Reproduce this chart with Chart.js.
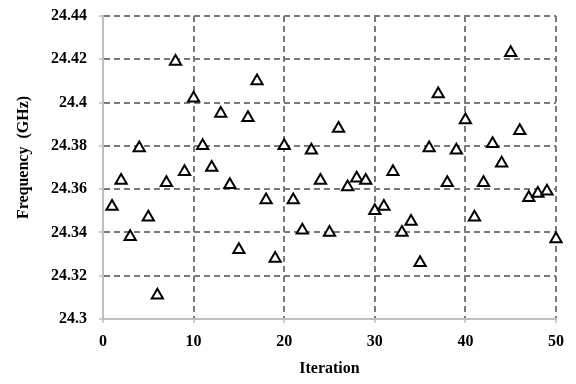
<!DOCTYPE html>
<html>
<head>
<meta charset="utf-8">
<script src="https://cdn.jsdelivr.net/npm/chart.js@4"></script>
<style>
  html, body { margin: 0; padding: 0; background: #fff; }
  #wrap { width: 576px; height: 384px; }
</style>
</head>
<body>
<div id="wrap"><canvas id="freqChart" width="576" height="384"></canvas></div>
<script>
// iteration numbers and measured frequency (GHz)
const iterations = [
    1, 2, 3, 4, 5, 6, 7, 8, 9, 10,
    11, 12, 13, 14, 15, 16, 17, 18, 19, 20,
    21, 22, 23, 24, 25, 26, 27, 28, 29, 30,
    31, 32, 33, 34, 35, 36, 37, 38, 39, 40,
    41, 42, 43, 44, 45, 46, 47, 48, 49, 50
];
const frequency = [
    24.352, 24.364, 24.338, 24.379, 24.347, 24.311, 24.363, 24.419, 24.368, 24.402,
    24.380, 24.370, 24.395, 24.362, 24.332, 24.393, 24.410, 24.355, 24.328, 24.380,
    24.355, 24.341, 24.378, 24.364, 24.340, 24.388, 24.361, 24.365, 24.364, 24.350,
    24.352, 24.368, 24.340, 24.345, 24.326, 24.379, 24.404, 24.363, 24.378, 24.392,
    24.347, 24.363, 24.381, 24.372, 24.423, 24.387, 24.356, 24.358, 24.359, 24.337
];

const xTicks = [0, 10, 20, 30, 40, 50];
const yTicks = [24.3, 24.32, 24.34, 24.36, 24.38, 24.4, 24.42, 24.44];

let points = [];
for (let i = 0; i < iterations.length; i++) {
    points.push({ x: iterations[i], y: frequency[i] });
}

const labelFont = { family: "'Liberation Serif', 'Times New Roman', serif", size: 16, weight: "bold" };
const gridGrey = "#7a7a7a";
const axisGrey = "#bfbfbf";

const ctx = document.getElementById("freqChart").getContext("2d");

new Chart(ctx, {
    type: "scatter",
    data: {
        datasets: [{
            data: points,
            pointStyle: "triangle",
            pointRadius: 6.5,
            pointHoverRadius: 6.5,
            borderWidth: 2,
            borderColor: "#000",
            backgroundColor: "#fff",
            clip: false
        }]
    },
    options: {
        responsive: false,
        animation: false,
        layout: { padding: { left: 0, right: 20, top: 16, bottom: 0 } },
        plugins: {
            legend: { display: false },
            tooltip: { enabled: false }
        },
        scales: {
            x: {
                type: "linear",
                min: xTicks[0],
                max: xTicks[xTicks.length - 1],
                afterBuildTicks: s => { s.ticks = xTicks.map(v => ({ value: v })); },
                afterFit: s => { s.height = 65; s.paddingLeft = 0; s.paddingRight = 0; },
                ticks: { color: "#000", font: labelFont, padding: 9, maxRotation: 0 },
                grid: {
                    color: c => (c.tick && c.tick.value === 0) ? "rgba(0,0,0,0)" : gridGrey,
                    lineWidth: 2,
                    tickColor: axisGrey,
                    tickWidth: 1.5,
                    tickLength: 4
                },
                border: { color: axisGrey, width: 2, dash: [6, 4] },
                title: {
                    display: true,
                    text: "Iteration",
                    color: "#000",
                    font: labelFont,
                    padding: { top: 0, bottom: 6 }
                }
            },
            y: {
                min: yTicks[0],
                max: yTicks[yTicks.length - 1],
                afterBuildTicks: s => { s.ticks = yTicks.map(v => ({ value: v })); },
                afterFit: s => { s.width = 103; s.paddingTop = 0; s.paddingBottom = 0; },
                ticks: {
                    color: "#000",
                    font: labelFont,
                    padding: 12,
                    callback: v => String(Number(v.toFixed(2)))
                },
                grid: {
                    color: c => (c.tick && Math.abs(c.tick.value - 24.3) < 1e-6) ? "rgba(0,0,0,0)" : gridGrey,
                    lineWidth: 2,
                    tickColor: axisGrey,
                    tickWidth: 1.5,
                    tickLength: 4
                },
                border: { color: axisGrey, width: 2, dash: [6, 4] },
                title: {
                    display: true,
                    // leading spaces nudge the rotated title up, as in the original
                    text: "\u00a0\u00a0\u00a0\u00a0\u00a0Frequency  (GHz)",
                    color: "#000",
                    font: labelFont,
                    padding: { top: 14, bottom: 0 }
                }
            }
        }
    }
});
</script>
</body>
</html>
